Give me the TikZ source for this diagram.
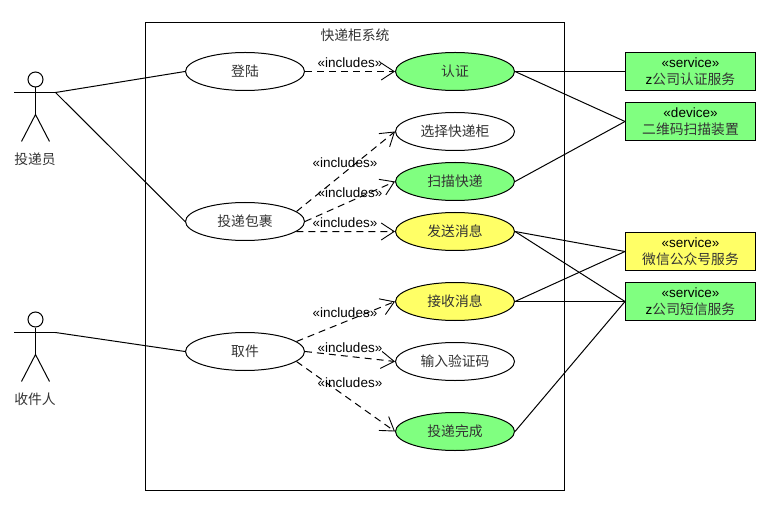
\documentclass[tikz,border=0pt]{standalone}
\usepackage{fontspec}
\setmainfont{Liberation Sans}
\newfontfamily\cjk{Noto Sans CJK SC}
\usetikzlibrary{arrows.meta,shapes.geometric}
\definecolor{lg}{RGB}{128,255,128}
\definecolor{ly}{RGB}{255,255,102}
\newcommand{\zh}[1]{{\cjk\color{black!80}\fontsize{13.8}{17}\selectfont #1}}
\tikzset{
    usecase/.style = {ellipse,
                    fill=white,
                    draw=black,
                    text=black,
                    line width=1pt,
                    inner sep=0pt,
                    minimum width=119pt,
                    minimum height=38pt},
    done/.style =   {usecase,
                    fill=lg},
    msg/.style =    {usecase,
                    fill=ly},
    device/.style = {rectangle,
                    fill=lg,
                    draw=black,
                    text=black,
                    line width=1pt,
                    inner sep=0pt,
                    align=center,
                    font=\fontsize{13.5}{17}\selectfont,
                    minimum width=130pt,
                    minimum height=38pt},
    inc/.style =    {font=\fontsize{13.5}{16}\selectfont,
                    inner sep=0pt},
    dep/.style =    {line width=1pt,
                    dash pattern=on 7pt off 5pt,
                    -{Straight Barb[length=13pt,width=17pt,line width=0.9pt]}},
    assoc/.style =  {line width=1pt},
    limb/.style =   {line width=1pt},
    label/.style =  {inner sep=0pt}
}

\begin{document}
\begin{tikzpicture}[x=1pt,y=-1pt]
    \useasboundingbox (0,0) rectangle (767,510);
    % system frame
    \node[draw,line width=1pt,inner sep=0pt,minimum width=419pt,minimum height=468pt] (system) at (355,256.5) {};
    \node[label] (title) at (355,35) {\zh{快递柜系统}};
    % actors
    \foreach \name/\y/\txt in {courier/79.5/投递员, receiver/319.5/收件人} {
        \node[circle,draw,line width=1pt,inner sep=0pt,minimum size=15pt] (\name head) at (35.5,\y) {};
        \coordinate (\name hand) at (55.5,\y+13);
        \coordinate (\name arm) at (14,\y+13);
        \coordinate (\name hip) at (35.5,\y+35);
        \coordinate (\name left) at (21.5,\y+62);
        \coordinate (\name right) at (49.5,\y+62);
        \draw[limb] (\name head) -- (\name hip);
        \draw[limb] (\name arm) -- (\name hand);
        \draw[limb] (\name left) -- (\name hip) -- (\name right);
        \node[label] (\name) at (35,\y+80) {\zh{\txt}};
    }
    % use cases
    \node[usecase] (login)   at (245,71.5)  {\zh{登陆}};
    \node[usecase] (deliver) at (245,221.5) {\zh{投递包裹}};
    \node[usecase] (pickup)  at (245,351.5) {\zh{取件}};
    \node[done]    (auth)    at (455,71.5)  {\zh{认证}};
    \node[usecase] (choose)  at (455,131.5) {\zh{选择快递柜}};
    \node[done]    (scan)    at (455,181.5) {\zh{扫描快递}};
    \node[msg]     (send)    at (455,231.5) {\zh{发送消息}};
    \node[msg]     (recv)    at (455,301.5) {\zh{接收消息}};
    \node[usecase] (code)    at (455,361.5) {\zh{输入验证码}};
    \node[done]    (finish)  at (455,431.5) {\zh{投递完成}};
    % external systems
    \node[device]          (authsrv) at (690.5,71.5)  {«service»\\z\zh{公司认证服务}};
    \node[device]          (scanner) at (690.5,121.5) {«device»\\\zh{二维码扫描装置}};
    \node[device,fill=ly]  (wechat)  at (690.5,251.5) {«service»\\\zh{微信公众号服务}};
    \node[device]          (sms)     at (690.5,301.5) {«service»\\z\zh{公司短信服务}};
    % associations
    \path [assoc]  (courierhand)  edge (login.west)
                   (courierhand)  edge (deliver.west)
                   (receiverhand) edge (pickup.west)
                   (auth.east)    edge (authsrv.west)
                   (auth.east)    edge (scanner.west)
                   (scan.east)    edge (scanner.west)
                   (send.east)    edge (wechat.west)
                   (send.east)    edge (sms.west)
                   (recv.east)    edge (wechat.west)
                   (recv.east)    edge (sms.west)
                   (finish.east)  edge (sms.west);
    % includes
    \path [dep]    (login.east)   edge (auth.west)
                   (deliver.11)   edge (choose.west)
                   (deliver.east) edge (scan.west)
                   (deliver.-11)  edge (send.west)
                   (pickup.11)    edge (recv.west)
                   (pickup.east)  edge (code.west)
                   (pickup.-11)   edge (finish.west);
    \node[inc] (inclogin)  at (350,63)  {«includes»};
    \node[inc] (incchoose) at (345,163) {«includes»};
    \node[inc] (incscan)   at (350,193) {«includes»};
    \node[inc] (incsend)   at (345,223) {«includes»};
    \node[inc] (increcv)   at (345,313) {«includes»};
    \node[inc] (inccode)   at (350,348) {«includes»};
    \node[inc] (incfinish) at (350,383) {«includes»};
\end{tikzpicture}
\end{document}
